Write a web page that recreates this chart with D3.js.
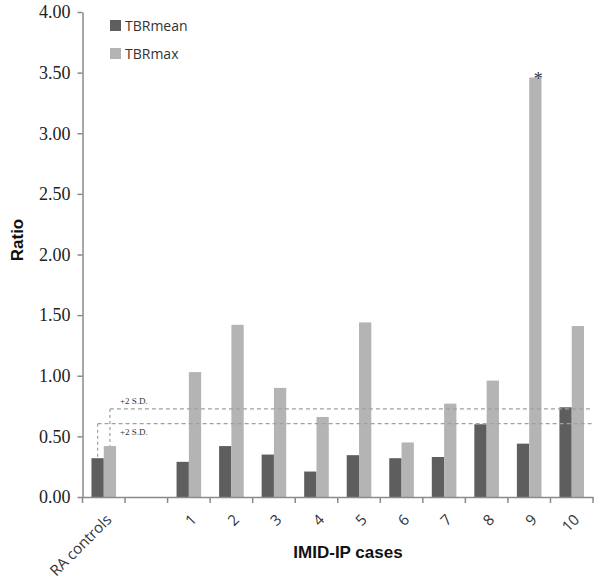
<!DOCTYPE html>
<html><head><meta charset="utf-8">
<script src="https://cdn.jsdelivr.net/npm/d3@7"></script>
<style>body{margin:0;background:#fff}</style>
</head><body>
<svg id="c" width="600" height="580"></svg>
<script>
const categories = ["RA controls", "", "1", "2", "3", "4", "5", "6", "7", "8", "9", "10"];
const tbrMean = [0.32, null, 0.29, 0.42, 0.35, 0.21, 0.345, 0.32, 0.33, 0.60, 0.44, 0.74];
const tbrMax  = [0.42, null, 1.03, 1.42, 0.90, 0.66, 1.44, 0.45, 0.77, 0.96, 3.46, 1.41];
const seriesNames = ["TBRmean", "TBRmax"];
const yTicks = [0, 0.5, 1, 1.5, 2, 2.5, 3, 3.5, 4];
const sdLines = [0.726, 0.605];

const svg = d3.select("#c");
const x0 = 82.5, x1 = 593, yTop = 12, yBot = 497;
const x = d3.scaleBand().domain(categories.map((c,i)=>i)).range([x0, x1]);
const y = d3.scaleLinear().domain([0, 4]).range([yBot, yTop]);
const barW = 12.3;
const colors = ["#5e5e5e", "#b4b4b4"];
const axisCol = "#8a8a8a";
const serif = "'Liberation Serif', 'Times New Roman', serif";
const sans = "'Open Sans', 'Liberation Sans', sans-serif";
const bold = "'Liberation Sans', Arial, sans-serif";

// bars
[tbrMean, tbrMax].forEach((vals, s) => {
  svg.append("g").selectAll("rect").data(vals.map((v,i)=>({v,i})).filter(d=>d.v!=null))
    .join("rect")
    .attr("x", d => x(d.i) + x.bandwidth()/2 - barW + s*barW)
    .attr("y", d => y(d.v))
    .attr("width", barW)
    .attr("height", d => yBot - y(d.v))
    .attr("fill", colors[s]);
});

// y axis
const ya = svg.append("g").attr("transform", `translate(${x0},0)`)
  .call(d3.axisLeft(y).tickValues(yTicks).tickFormat(d3.format(".2f")).tickSize(5).tickSizeOuter(0));
ya.attr("font-family", null).attr("font-size", null);
ya.select(".domain").attr("stroke", axisCol).attr("stroke-width", 1.5);
ya.selectAll(".tick line").attr("stroke", axisCol).attr("stroke-width", 1.5);
ya.selectAll(".tick text").style("font-family", serif)
  .style("font-size", "18px").attr("fill", "#222").attr("x", -12);

// x axis
const xa = svg.append("g").attr("transform", `translate(0,${yBot})`)
  .call(d3.axisBottom(x).tickSize(0).tickFormat(i => categories[i]));
xa.attr("font-family", null).attr("font-size", null);
xa.select(".domain").attr("stroke", axisCol).attr("stroke-width", 1.5);
xa.selectAll(".tick text")
  .style("font-family", sans)
  .style("font-size", "15px").attr("fill", "#333")
  .attr("text-anchor", "end")
  .attr("transform", "translate(5,20) rotate(-45)")
  .attr("dy", "0.35em").attr("y", 0);
// x boundary ticks
const bounds = d3.range(categories.length + 1).map(i => x0 + i * x.step());
svg.append("g").selectAll("line").data(bounds).join("line")
  .attr("x1", d=>d).attr("x2", d=>d).attr("y1", yBot).attr("y2", yBot+6)
  .attr("stroke", axisCol).attr("stroke-width", 1.5);

// SD lines
const raCenter = x(0) + x.bandwidth()/2;
const sdX = [raCenter + barW/2, raCenter - barW/2];
const sdBarVal = [tbrMax[0], tbrMean[0]];
sdLines.forEach((v, k) => {
  svg.append("line").attr("x1", sdX[k]).attr("x2", x1).attr("y1", y(v)).attr("y2", y(v))
    .attr("stroke", "#a0a0a0").attr("stroke-width", 1.2).attr("stroke-dasharray", "4,3");
  svg.append("line").attr("x1", sdX[k]).attr("x2", sdX[k]).attr("y1", y(v)).attr("y2", y(sdBarVal[k]))
    .attr("stroke", "#a0a0a0").attr("stroke-width", 1.2).attr("stroke-dasharray", "3,3");
  svg.append("text").attr("x", 120).attr("y", k === 0 ? y(v) - 5 : y(v) + 11)
    .style("font-family", serif).style("font-size", "9px").attr("fill", "#333")
    .text("+2 S.D.");
});

// asterisk
svg.append("text").attr("x", x(10) + x.bandwidth()/2 + barW/2 + 3).attr("y", y(tbrMax[10]) + 8)
  .attr("text-anchor", "middle").style("font-family", serif)
  .style("font-size", "18px").attr("fill", "#333").text("*");

// legend
seriesNames.forEach((n, k) => {
  const ly = 25 + k * 28;
  svg.append("rect").attr("x", 110).attr("y", ly - 5).attr("width", 11).attr("height", 11).attr("fill", colors[k]);
  svg.append("text").attr("x", 125).attr("y", ly + 1).attr("dy", "0.35em")
    .style("font-family", sans).style("font-size", "14px").attr("fill", "#333").text(n);
});

// titles
svg.append("text").attr("transform", "translate(23,240) rotate(-90)").attr("text-anchor", "middle")
  .style("font-family", bold).attr("font-weight", "bold").style("font-size", "17px")
  .attr("fill", "#111").text("Ratio");
svg.append("text").attr("x", 348).attr("y", 558).attr("text-anchor", "middle")
  .style("font-family", bold).attr("font-weight", "bold").style("font-size", "17px")
  .attr("fill", "#111").text("IMID-IP cases");
</script>
</body></html>
